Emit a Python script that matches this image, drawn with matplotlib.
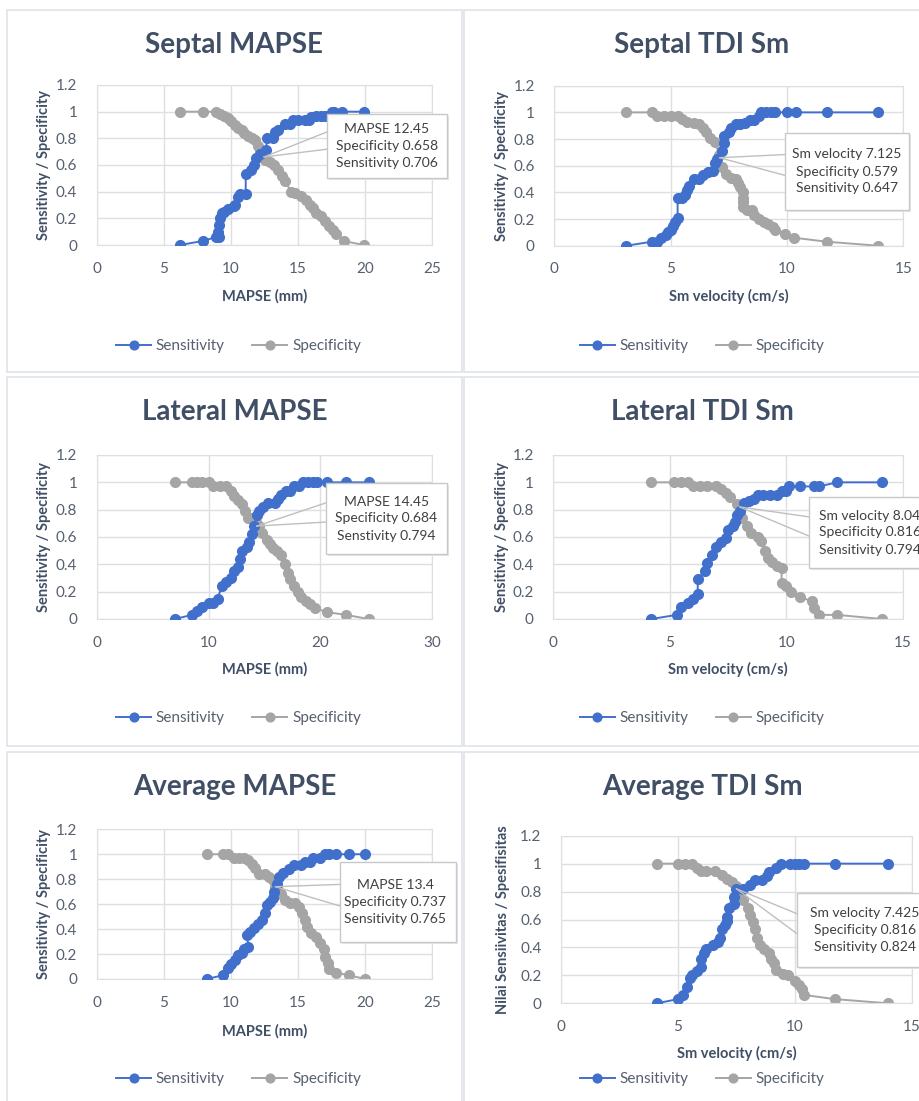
import matplotlib
matplotlib.use('Agg')
import matplotlib.pyplot as plt
from matplotlib.patches import Rectangle, ConnectionPatch
from matplotlib.ticker import FuncFormatter

plt.rcParams['font.family'] = ['Lato', 'DejaVu Sans']

W, H = 920, 1101
BLUE = '#4170CC'
GRAY = '#A5A5A5'
TITLE_C = '#404f65'
TICK_C = '#56606e'
GRID_C = '#dcdfe3'

# ---- data ----
# Septal MAPSE
sep_mapse_sens_x = [6.2, 7.9, 8.9, 9.1, 9.0, 9.1, 9.2, 9.3, 9.5, 9.8, 10.2, 10.3, 10.5, 10.7, 11.1, 11.1, 11.5,
                    11.7, 11.9, 12.2, 12.6, 12.7, 13.1, 13.3, 13.5, 14.0, 14.4, 14.6, 15.0, 15.5, 15.8, 16.0,
                    16.3, 16.7, 17.0, 17.5, 17.7, 18.3, 19.9]
sep_mapse_sens_y = [0.0, 0.03, 0.06, 0.06, 0.1, 0.15, 0.2, 0.24, 0.25, 0.27, 0.29, 0.3, 0.36, 0.38, 0.38, 0.53,
                    0.56, 0.6, 0.65, 0.68, 0.71, 0.8, 0.8, 0.85, 0.86, 0.91, 0.91, 0.94, 0.94, 0.94, 0.94, 0.96,
                    0.97, 0.97, 0.97, 1.0, 1.0, 1.0, 1.0]
sep_mapse_spec_x = [6.2, 7.9, 8.9, 9.2, 9.5, 9.8, 10.0, 10.3, 10.5, 10.8, 11.0, 11.3, 11.6, 11.8, 12.0, 12.2,
                    12.3, 12.5, 12.9, 13.2, 13.5, 13.8, 14.0, 14.5, 14.8, 15.2, 15.6, 15.9, 16.1, 16.3, 16.7,
                    17.0, 17.3, 17.6, 17.8, 18.4, 19.9]
sep_mapse_spec_y = [1.0, 1.0, 1.0, 0.98, 0.97, 0.95, 0.93, 0.9, 0.88, 0.86, 0.84, 0.82, 0.8, 0.79, 0.74, 0.71,
                    0.66, 0.64, 0.62, 0.6, 0.56, 0.52, 0.48, 0.4, 0.39, 0.37, 0.34, 0.3, 0.28, 0.24, 0.22,
                    0.18, 0.14, 0.11, 0.08, 0.03, 0.0]

# Septal TDI Sm
sep_tdi_sens_x = [3.1, 4.2, 4.4, 4.6, 4.8, 4.9, 5.0, 5.1, 5.2, 5.3, 5.3, 5.5, 5.6, 5.7, 5.8, 6.0, 6.2, 6.4,
                  6.6, 6.8, 6.9, 7.0, 7.2, 7.3, 7.3, 7.5, 7.6, 7.8, 8.0, 8.2, 8.4, 8.6, 8.8, 8.9, 9.1, 9.3,
                  9.5, 10.0, 10.4, 11.7, 13.9]
sep_tdi_sens_y = [0.0, 0.03, 0.03, 0.06, 0.08, 0.1, 0.12, 0.15, 0.18, 0.21, 0.36, 0.36, 0.38, 0.42, 0.45, 0.5,
                  0.5, 0.53, 0.55, 0.56, 0.62, 0.65, 0.71, 0.77, 0.82, 0.85, 0.88, 0.91, 0.91, 0.92, 0.94,
                  0.94, 0.97, 1.0, 1.0, 1.0, 1.0, 1.0, 1.0, 1.0, 1.0]
sep_tdi_spec_x = [3.1, 4.2, 4.4, 4.7, 5.0, 5.3, 5.5, 5.7, 6.0, 6.2, 6.4, 6.5, 6.7, 6.9, 7.1, 7.2, 7.4, 7.6,
                  7.8, 7.9, 8.0, 8.1, 8.1, 8.1, 8.1, 8.3, 8.5, 8.6, 8.8, 9.0, 9.2, 9.4, 9.5, 9.9, 10.3,
                  11.7, 13.9]
sep_tdi_spec_y = [1.0, 1.0, 0.97, 0.97, 0.97, 0.97, 0.95, 0.93, 0.92, 0.91, 0.88, 0.85, 0.81, 0.78, 0.68,
                  0.59, 0.54, 0.51, 0.5, 0.47, 0.44, 0.4, 0.36, 0.33, 0.29, 0.27, 0.27, 0.23, 0.2, 0.18,
                  0.16, 0.14, 0.12, 0.09, 0.06, 0.03, 0.0]

# Lateral MAPSE
lat_mapse_sens_x = [7.0, 8.5, 9.0, 9.4, 10.0, 10.4, 10.8, 11.2, 11.6, 12.0, 12.3, 12.6, 12.8, 13.0, 13.4,
                    13.6, 13.9, 14.1, 14.3, 14.5, 14.9, 15.3, 15.9, 16.2, 16.5, 16.9, 17.3, 17.6, 18.1,
                    18.4, 18.9, 19.3, 19.7, 20.6, 22.3, 24.3]
lat_mapse_sens_y = [0.0, 0.03, 0.06, 0.09, 0.12, 0.12, 0.15, 0.24, 0.27, 0.3, 0.35, 0.38, 0.44, 0.5, 0.53,
                    0.56, 0.62, 0.68, 0.76, 0.79, 0.82, 0.85, 0.85, 0.88, 0.91, 0.94, 0.94, 0.97, 0.97,
                    1.0, 1.0, 1.0, 1.0, 1.0, 1.0, 1.0]
lat_mapse_spec_x = [7.0, 8.5, 9.0, 9.4, 10.0, 10.4, 11.0, 11.6, 12.0, 12.3, 12.6, 13.0, 13.3, 13.5, 13.9,
                    14.2, 14.5, 14.8, 15.2, 15.5, 15.8, 16.1, 16.5, 16.8, 17.1, 17.3, 17.6, 18.0, 18.3,
                    18.7, 19.1, 19.5, 20.6, 22.3, 24.3]
lat_mapse_spec_y = [1.0, 1.0, 1.0, 1.0, 1.0, 0.97, 0.97, 0.97, 0.94, 0.9, 0.87, 0.84, 0.79, 0.74, 0.74,
                    0.71, 0.68, 0.63, 0.58, 0.55, 0.52, 0.5, 0.47, 0.4, 0.34, 0.29, 0.24, 0.2, 0.16,
                    0.13, 0.11, 0.08, 0.05, 0.03, 0.0]

# Lateral TDI Sm
lat_tdi_sens_x = [4.2, 5.3, 5.5, 5.8, 6.0, 6.2, 6.2, 6.5, 6.6, 6.8, 7.0, 7.2, 7.4, 7.5, 7.7, 7.8, 7.9, 8.0,
                  8.2, 8.4, 8.6, 8.8, 9.0, 9.3, 9.6, 9.8, 10.0, 10.1, 10.6, 11.2, 11.4, 12.2, 14.1]
lat_tdi_sens_y = [0.0, 0.03, 0.09, 0.12, 0.15, 0.18, 0.29, 0.35, 0.41, 0.47, 0.53, 0.56, 0.59, 0.65, 0.68,
                  0.71, 0.76, 0.79, 0.85, 0.86, 0.88, 0.91, 0.91, 0.91, 0.91, 0.94, 0.94, 0.97, 0.97,
                  0.97, 0.97, 1.0, 1.0]
lat_tdi_spec_x = [4.2, 5.2, 5.5, 5.8, 6.0, 6.3, 6.6, 7.0, 7.2, 7.4, 7.6, 7.9, 8.0, 8.1, 8.3, 8.5, 8.8, 8.9,
                  9.1, 9.2, 9.4, 9.6, 9.8, 9.8, 10.0, 10.2, 10.6, 11.1, 11.2, 11.4, 12.2, 14.1]
lat_tdi_spec_y = [1.0, 1.0, 1.0, 1.0, 0.97, 0.97, 0.97, 0.97, 0.95, 0.92, 0.89, 0.84, 0.79, 0.74, 0.68,
                  0.63, 0.6, 0.57, 0.5, 0.45, 0.42, 0.39, 0.37, 0.26, 0.24, 0.2, 0.16, 0.13, 0.08, 0.03,
                  0.03, 0.0]

# Average MAPSE
avg_mapse_sens_x = [8.2, 9.4, 9.8, 10.0, 10.3, 10.5, 10.8, 11.0, 11.3, 11.2, 11.4, 11.7, 12.0, 12.3, 12.5,
                    12.7, 12.9, 13.1, 13.2, 13.4, 13.6, 13.9, 14.3, 14.7, 15.2, 15.5, 15.9, 16.1, 16.6,
                    17.0, 17.3, 17.8, 18.8, 20.0]
avg_mapse_sens_y = [0.0, 0.03, 0.09, 0.12, 0.15, 0.19, 0.21, 0.24, 0.26, 0.35, 0.38, 0.41, 0.44, 0.47, 0.53,
                    0.59, 0.62, 0.65, 0.7, 0.76, 0.82, 0.85, 0.88, 0.91, 0.91, 0.94, 0.94, 0.97, 0.97,
                    1.0, 1.0, 1.0, 1.0, 1.0]
avg_mapse_spec_x = [8.2, 9.4, 9.8, 10.2, 10.6, 11.0, 11.3, 11.6, 11.8, 12.1, 12.5, 12.8, 13.1, 13.3, 13.5,
                    13.7, 14.0, 14.4, 14.8, 15.1, 15.3, 15.5, 15.7, 16.0, 16.3, 16.6, 16.9, 17.0, 17.2,
                    17.3, 17.8, 18.8, 20.0]
avg_mapse_spec_y = [1.0, 1.0, 1.0, 0.97, 0.97, 0.97, 0.95, 0.92, 0.89, 0.84, 0.84, 0.82, 0.79, 0.74, 0.71,
                    0.68, 0.63, 0.61, 0.61, 0.58, 0.53, 0.47, 0.42, 0.37, 0.34, 0.29, 0.24, 0.18, 0.13,
                    0.08, 0.05, 0.03, 0.0]

# Average TDI Sm
avg_tdi_sens_x = [4.1, 5.0, 5.2, 5.4, 5.5, 5.6, 5.8, 6.0, 6.0, 6.1, 6.2, 6.5, 6.7, 6.8, 6.9, 7.0, 7.1, 7.1,
                  7.2, 7.4, 7.4, 7.5, 7.8, 8.1, 8.3, 8.6, 8.8, 8.9, 9.2, 9.4, 9.8, 10.0, 10.2, 10.4,
                  11.7, 14.0]
avg_tdi_sens_y = [0.0, 0.03, 0.06, 0.12, 0.18, 0.2, 0.23, 0.26, 0.32, 0.36, 0.39, 0.42, 0.44, 0.47, 0.53,
                  0.56, 0.59, 0.62, 0.68, 0.71, 0.76, 0.82, 0.82, 0.85, 0.88, 0.88, 0.91, 0.94, 0.97,
                  1.0, 1.0, 1.0, 1.0, 1.0, 1.0, 1.0]
avg_tdi_spec_x = [4.1, 5.0, 5.3, 5.6, 5.8, 6.0, 6.2, 6.6, 6.9, 7.1, 7.3, 7.5, 7.6, 7.8, 8.0, 8.1, 8.2, 8.3,
                  8.4, 8.5, 8.7, 8.9, 9.0, 9.1, 9.2, 9.5, 9.7, 10.0, 10.2, 10.3, 10.4, 11.7, 14.0]
avg_tdi_spec_y = [1.0, 1.0, 1.0, 1.0, 0.97, 0.95, 0.95, 0.95, 0.92, 0.89, 0.87, 0.84, 0.79, 0.74, 0.68,
                  0.63, 0.58, 0.53, 0.47, 0.42, 0.39, 0.36, 0.32, 0.29, 0.24, 0.21, 0.2, 0.16, 0.13, 0.1,
                  0.06, 0.03, 0.0]

titles = ['Septal MAPSE', 'Septal TDI Sm', 'Lateral MAPSE', 'Lateral TDI Sm', 'Average MAPSE', 'Average TDI Sm']
xlabels = ['MAPSE (mm)', 'Sm velocity (cm/s)', 'MAPSE (mm)', 'Sm velocity (cm/s)', 'MAPSE (mm)',
           'Sm velocity (cm/s)']
ylabels = ['Sensitivity / Specificity'] * 5 + ['Nilai Sensiivitas / Spesifisitas']
xmax = [25, 15, 30, 15, 25, 15]
xstep = [5, 5, 10, 5, 5, 5]
cut_names = ['MAPSE', 'Sm velocity', 'MAPSE', 'Sm velocity', 'MAPSE', 'Sm velocity']
cut_values = ['12.45', '7.125', '14.45', '8.04', '13.4', '7.425']
cut_spec = ['0.658', '0.579', '0.684', '0.816', '0.737', '0.816']
cut_sens = ['0.706', '0.647', '0.794', '0.794', '0.765', '0.824']
sens_word = ['Sensitivity', 'Sensitivity', 'Senstivity', 'Sensitivity', 'Sensitivity', 'Sensitivity']
# where the callout points at (x, y)
cut_points = [(12.45, 0.66), (7.1, 0.66), (14.3, 0.68), (8.0, 0.82), (13.3, 0.74), (7.5, 0.82)]

series = [
    (sep_mapse_sens_x, sep_mapse_sens_y, sep_mapse_spec_x, sep_mapse_spec_y),
    (sep_tdi_sens_x, sep_tdi_sens_y, sep_tdi_spec_x, sep_tdi_spec_y),
    (lat_mapse_sens_x, lat_mapse_sens_y, lat_mapse_spec_x, lat_mapse_spec_y),
    (lat_tdi_sens_x, lat_tdi_sens_y, lat_tdi_spec_x, lat_tdi_spec_y),
    (avg_mapse_sens_x, avg_mapse_sens_y, avg_mapse_spec_x, avg_mapse_spec_y),
    (avg_tdi_sens_x, avg_tdi_sens_y, avg_tdi_spec_x, avg_tdi_spec_y),
]

# ---- layout in pixels ----
# panel frames (left, top, right, bottom)
frames = [(7, 10, 462, 372), (464, 10, 940, 372),
          (7, 377, 462, 746), (464, 377, 940, 746),
          (7, 752, 462, 1110), (464, 752, 940, 1110)]
# axes boxes (left, top, right, bottom)
axboxes = [(96.7, 85, 432.3, 245), (554.3, 85.7, 903.3, 245.7),
           (96.7, 455, 432.3, 619), (553.3, 455, 902.7, 619),
           (96.7, 829.3, 432.3, 979), (561, 835.7, 911.7, 1003.3)]
title_y = [45, 45, 412, 412, 787, 787]
xlabel_y = [296, 296, 669, 669, 1031, 1053]
legend_y = [346, 346, 718, 718, 1079, 1079]
ylabel_x = [44, 502, 44, 502, 44, 503]
# callout boxes (left, top, right, bottom)
callouts = [(327, 114, 447, 178), (785, 133, 909, 210),
            (326, 483, 447, 554), (809, 497, 942, 568),
            (340, 862, 456, 942), (797, 893, 934, 967)]
# centre of callout text (x, in pixels)
callout_tx = [387, 847, 386.5, 870, 395, 865]


def fx(px):
    return px / W


def fy(py):
    return 1 - py / H


fig = plt.figure(figsize=(W / 100, H / 100), dpi=100)
fig.patch.set_facecolor('white')

for i in range(6):
    l, t, r, b = frames[i]
    fig.patches.append(Rectangle((fx(l), fy(b)), fx(r - l), (b - t) / H, transform=fig.transFigure,
                                 facecolor='white', edgecolor='#dfe3e8', lw=1.2, zorder=-5))

    l, t, r, b = axboxes[i]
    ax = fig.add_axes([fx(l), fy(b), fx(r - l), (b - t) / H])
    ax.patch.set_alpha(0)
    sx, sy, px_, py_ = series[i]
    h1, = ax.plot(sx, sy, '-o', color=BLUE, ms=7, lw=1.4, label='Sensitivity', zorder=3)
    h2, = ax.plot(px_, py_, '-o', color=GRAY, ms=7, lw=1.4, label='Specificity', zorder=2)
    ax.set_xlim(0, xmax[i])
    ax.set_ylim(0, 1.2)
    ax.set_xticks(range(0, xmax[i] + 1, xstep[i]))
    ax.set_yticks([0, 0.2, 0.4, 0.6, 0.8, 1.0, 1.2])
    ax.yaxis.set_major_formatter(FuncFormatter(lambda v, p: f'{v:g}'))
    ax.grid(True, color=GRID_C, lw=1)
    ax.set_axisbelow(True)
    for s in ax.spines.values():
        s.set_color(GRID_C)
    ax.tick_params(length=0, labelsize=11, colors=TICK_C)
    ax.tick_params(axis='x', pad=12)
    ax.tick_params(axis='y', pad=14)

    cx = (frames[i][0] + frames[i][2]) / 2
    fig.text(fx(cx), fy(title_y[i]), titles[i], ha='center', va='center', fontsize=20,
             fontweight='bold', color=TITLE_C)
    fig.text(fx((l + r) / 2), fy(xlabel_y[i]), xlabels[i], ha='center', va='center', fontsize=10.5,
             fontweight='bold', color=TITLE_C)
    fig.text(fx(ylabel_x[i]), fy((t + b) / 2), ylabels[i], ha='center', va='center', fontsize=10.5,
             fontweight='bold', color=TITLE_C, rotation=90)
    lcx = cx + (4 if i % 2 == 0 else 0)
    fig.legend(handles=[h1, h2], loc='center', bbox_to_anchor=(fx(lcx), fy(legend_y[i])), ncol=2,
               frameon=False, fontsize=11, labelcolor=TICK_C, handlelength=2.3, handletextpad=0.3,
               columnspacing=1.8, markerscale=0.9)

    # callout
    cl, ct, cr, cb = callouts[i]
    hgt = cb - ct
    for frac in (0.28, 0.55):
        con = ConnectionPatch(xyA=cut_points[i], coordsA=ax.transData,
                              xyB=(fx(cl), fy(ct + frac * hgt)), coordsB=fig.transFigure,
                              color='#bfbfbf', lw=1, zorder=5)
        fig.add_artist(con)
    fig.patches.append(Rectangle((fx(cl + 2), fy(cb + 2)), fx(cr - cl), hgt / H, transform=fig.transFigure,
                                 facecolor='#e6e6e6', edgecolor='none', zorder=6))
    fig.patches.append(Rectangle((fx(cl), fy(cb)), fx(cr - cl), hgt / H, transform=fig.transFigure,
                                 facecolor='white', edgecolor='#c8c8c8', lw=1, zorder=7))
    txt = f'{cut_names[i]} {cut_values[i]}\nSpecificity {cut_spec[i]}\n{sens_word[i]} {cut_sens[i]}'
    fig.text(fx(callout_tx[i]), fy((ct + cb) / 2), txt, ha='center', va='center', fontsize=10,
             color='#404040', linespacing=1.5, zorder=8)

fig.savefig('out.png', dpi=100)
